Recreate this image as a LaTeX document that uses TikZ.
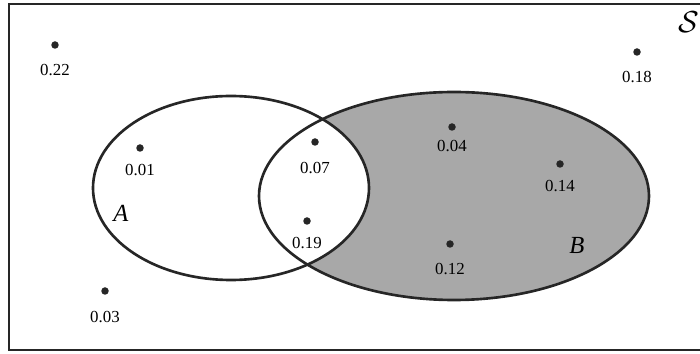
\documentclass[tikz,border=0pt]{standalone}
\usepackage{fontspec}
\setmainfont{Liberation Serif}
\begin{document}
\begin{tikzpicture}[x=0.02cm,y=-0.02cm,
  pt/.style={circle,fill=black!85,inner sep=0pt,minimum size=0.15cm},
  val/.style={font=\fontsize{9.6}{11}\selectfont,inner sep=1pt},
  setlab/.style={font=\fontsize{14}{15}\selectfont\itshape,inner sep=0pt},
  outline/.style={line width=1.5pt,draw=black!85}]
\useasboundingbox (0,0) rectangle (700,354);
% frame (right side runs off the picture)
\draw[line width=1.3pt,black!85] (700,4) -- (9,4) -- (9,350) -- (700,350);
% shading: B gray, intersection white
\fill[gray!68] (454,196) ellipse [x radius=195, y radius=104];
\fill[white] (231,188) ellipse [x radius=138, y radius=92];
\draw[outline] (454,196) ellipse [x radius=195, y radius=104];
\draw[outline] (231,188) ellipse [x radius=138, y radius=92];
% points
\node[pt] (p22) at (55,45) {};  \node[val] (l22) at (55,70) {0.22};
\node[pt] (p18) at (637,52) {}; \node[val] (l18) at (637,77) {0.18};
\node[pt] (p01) at (140,148) {}; \node[val] (l01) at (140,170) {0.01};
\node[pt] (p07) at (315,142) {}; \node[val] (l07) at (315,168) {0.07};
\node[pt] (p19) at (307,221) {}; \node[val] (l19) at (307,243) {0.19};
\node[pt] (p04) at (452,127) {}; \node[val] (l04) at (452,146) {0.04};
\node[pt] (p14) at (560,164) {}; \node[val] (l14) at (560,186) {0.14};
\node[pt] (p12) at (450,244) {}; \node[val] (l12) at (450,269) {0.12};
\node[pt] (p03) at (105,291) {}; \node[val] (l03) at (105,317) {0.03};
% set labels
\node[setlab] (A) at (121,213) {A};
\node[setlab] (B) at (577,245) {B};
\node[inner sep=0pt,font=\fontsize{18}{19}\selectfont] (S) at (689,22) {$\mathcal{S}$};
\end{tikzpicture}
\end{document}
